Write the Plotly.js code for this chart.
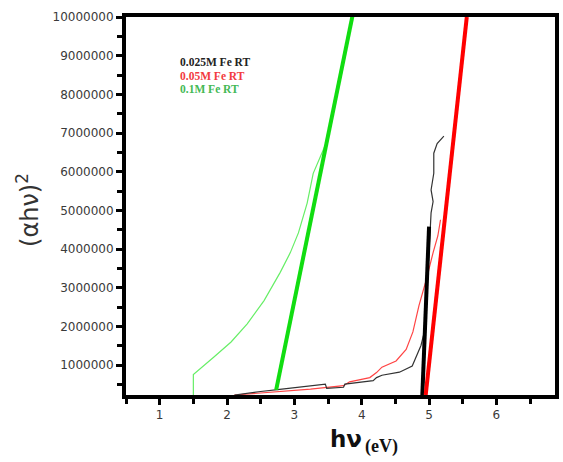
<!DOCTYPE html>
<html>
<head>
<meta charset="utf-8">
<script src="https://cdn.plot.ly/plotly-3.0.1.min.js"></script>
<style>html,body{margin:0;padding:0;background:#fff;}#chart{width:563px;height:462px;}</style>
</head>
<body>
<div id="chart"></div>
<script>
// Measured curves (x in eV, y in (αhν)^2)
const blackX = [2.11, 2.35, 2.50, 2.75, 3.14, 3.46, 3.48, 3.73, 3.75, 4.17, 4.22, 4.30, 4.56, 4.75, 4.88, 4.93, 4.95, 5.00, 5.03, 5.06, 5.03, 5.05, 5.07, 5.07, 5.12, 5.22];
const blackY = [230000, 290000, 320000, 370000, 440000, 510000, 400000, 430000, 510000, 600000, 680000, 740000, 820000, 980000, 1510000, 1860000, 2710000, 3910000, 4940000, 5230000, 5530000, 5710000, 5960000, 6480000, 6730000, 6920000];

const redX = [2.11, 2.40, 2.75, 3.24, 3.73, 3.82, 4.12, 4.22, 4.30, 4.51, 4.66, 4.76, 4.85, 4.96, 5.06, 5.13, 5.17];
const redY = [230000, 270000, 310000, 380000, 470000, 570000, 680000, 810000, 950000, 1110000, 1410000, 1860000, 2540000, 3220000, 3910000, 4340000, 4760000];

const greenX = [1.50, 1.50, 1.81, 2.06, 2.30, 2.55, 2.79, 2.94, 3.06, 3.19, 3.28, 3.38, 3.46, 3.48];
const greenY = [230000, 760000, 1220000, 1600000, 2070000, 2670000, 3400000, 3910000, 4420000, 5190000, 5960000, 6390000, 6690000, 6860000];

// Tangent (fit) lines
const blackFitX = [4.90, 5.00];
const blackFitY = [230000, 4580000];
const redFitX = [4.95, 5.56];
const redFitY = [230000, 10000000];
const greenFitX = [2.73, 3.87];
const greenFitY = [360000, 10090000];

const seriesNames = ["0.025M Fe RT", "0.05M Fe RT", "0.1M Fe RT"];
const xTickVals = [1, 2, 3, 4, 5, 6];
const yTickVals = [1000000, 2000000, 3000000, 4000000, 5000000, 6000000, 7000000, 8000000, 9000000, 10000000];

const traces = [
  {x: greenX, y: greenY, mode: "lines", line: {color: "#66ee66", width: 1.2}, name: seriesNames[2]},
  {x: redX, y: redY, mode: "lines", line: {color: "#ff4444", width: 1.2}, name: seriesNames[1]},
  {x: blackX, y: blackY, mode: "lines", line: {color: "#333333", width: 1.2}, name: seriesNames[0]},
  {x: greenFitX, y: greenFitY, mode: "lines", line: {color: "#11dd11", width: 4}},
  {x: blackFitX, y: blackFitY, mode: "lines", line: {color: "#000000", width: 4}},
  {x: redFitX, y: redFitY, mode: "lines", line: {color: "#ff0000", width: 4}}
];

const tickFont = {family: "DejaVu Sans, Arial, sans-serif", size: 12, color: "#3a3a3a"};

const layout = {
  width: 563, height: 462,
  margin: {l: 126, r: 8, t: 17, b: 67},
  paper_bgcolor: "#ffffff", plot_bgcolor: "#ffffff",
  showlegend: false,
  xaxis: {
    range: [0.5, 6.87],
    tickvals: xTickVals, ticktext: xTickVals.map(String),
    ticks: "outside", ticklen: 6, tickwidth: 3, tickcolor: "#000",
    minor: {dtick: 0.5, tick0: 0, ticks: "outside", ticklen: 5, tickwidth: 3, tickcolor: "#000"},
    showline: true, linewidth: 4, linecolor: "#000", mirror: true,
    showgrid: false, zeroline: false,
    tickfont: tickFont
  },
  yaxis: {
    range: [230000, 10000000],
    tickvals: yTickVals, ticktext: yTickVals.map(String),
    ticks: "outside", ticklen: 6, tickwidth: 3, tickcolor: "#000",
    minor: {dtick: 500000, tick0: 0, ticks: "outside", ticklen: 5, tickwidth: 3, tickcolor: "#000"},
    showline: true, linewidth: 4, linecolor: "#000", mirror: true,
    showgrid: false, zeroline: false,
    tickfont: tickFont
  },
  annotations: [
    {xref: "paper", yref: "paper", x: -0.228, y: 0.49, xanchor: "center", yanchor: "middle", text: "(αhν)<sup>2</sup>", showarrow: false,
     textangle: -90, font: {family: "DejaVu Sans, Arial, sans-serif", size: 24, color: "#333"}},
    {xref: "paper", yref: "paper", x: 0.555, y: -0.116, xanchor: "right", yanchor: "middle", text: "<b>hν</b>", showarrow: false,
     font: {family: "DejaVu Sans, Arial, sans-serif", size: 23, color: "#111"}},
    {xref: "paper", yref: "paper", x: 0.553, y: -0.135, xanchor: "left", yanchor: "middle", text: "<b>(eV)</b>", showarrow: false,
     font: {family: "Liberation Serif, Times New Roman, serif", size: 18, color: "#111"}},
    {xref: "paper", yref: "paper", x: 0.122, y: 0.882, xanchor: "left", yanchor: "middle", text: "<b>" + seriesNames[0] + "</b>", showarrow: false,
     font: {family: "Liberation Serif, Times New Roman, serif", size: 11.5, color: "#222"}},
    {xref: "paper", yref: "paper", x: 0.122, y: 0.845, xanchor: "left", yanchor: "middle", text: "<b>" + seriesNames[1] + "</b>", showarrow: false,
     font: {family: "Liberation Serif, Times New Roman, serif", size: 11.5, color: "#f23a40"}},
    {xref: "paper", yref: "paper", x: 0.122, y: 0.810, xanchor: "left", yanchor: "middle", text: "<b>" + seriesNames[2] + "</b>", showarrow: false,
     font: {family: "Liberation Serif, Times New Roman, serif", size: 11.5, color: "#44b955"}}
  ]
};

Plotly.newPlot("chart", traces, layout, {displayModeBar: false, staticPlot: true});
</script>
</body>
</html>
